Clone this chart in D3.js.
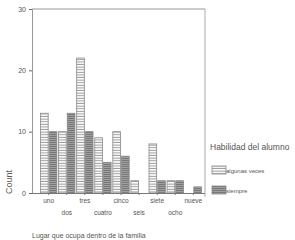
<!DOCTYPE html>
<html><head><meta charset="utf-8">
<script src="https://cdn.jsdelivr.net/npm/d3@7"></script>
<style>body{margin:0;background:#fff}svg{display:block}text{font-family:"Liberation Sans",Arial,sans-serif;fill:#555}</style>
</head><body><svg id="c" width="295" height="240"></svg>
<script>
const categories = ["uno","dos","tres","cuatro","cinco","seis","siete","ocho","nueve"];
const series = ["algunas veces","siempre"];
const algunasVeces = [13,10,22,9,10,2,8,2,0];
const siempre = [10,13,10,5,6,0,2,2,1];
const yTicks = [0,10,20,30];

(function(){
const svg = d3.select("#c");
const defs = svg.append("defs");
const p1 = defs.append("pattern").attr("id","pA").attr("patternUnits","userSpaceOnUse").attr("width",4).attr("height",2.6);
p1.append("rect").attr("width",4).attr("height",2.6).attr("fill","#fff");
p1.append("rect").attr("y",1.6).attr("width",4).attr("height",1).attr("fill","#999");
const p2 = defs.append("pattern").attr("id","pS").attr("patternUnits","userSpaceOnUse").attr("width",4).attr("height",2);
p2.append("rect").attr("width",4).attr("height",2).attr("fill","#777");
p2.append("rect").attr("y",1).attr("width",4).attr("height",0.6).attr("fill","#bbb");

const mL=32, mR=205, mT=9, mB=193;
const y = d3.scaleLinear().domain([0,30]).range([mB,mT]);
const x0 = d3.scaleBand().domain(categories).range([40,202]).paddingInner(0.04).paddingOuter(0);
const x1 = d3.scaleBand().domain(series).range([0,x0.bandwidth()]);
const fills = {"algunas veces":"url(#pA)","siempre":"url(#pS)"};
const vals = {"algunas veces":algunasVeces,"siempre":siempre};

svg.append("line").attr("x1",mL).attr("x2",mR).attr("y1",mT).attr("y2",mT).attr("stroke","#999").attr("stroke-width",1);
svg.append("line").attr("x1",mR).attr("x2",mR).attr("y1",mT).attr("y2",mB+4).attr("stroke","#aaa").attr("stroke-width",1);

const g = svg.append("g");
categories.forEach((c,i)=>{
  series.forEach(s=>{
    const v = vals[s][i];
    if(v<=0) return;
    g.append("rect").attr("x",x0(c)+x1(s)+0.5).attr("y",y(v)).attr("width",x1.bandwidth()-1).attr("height",mB-y(v))
      .attr("fill",fills[s]).attr("stroke","#888").attr("stroke-width",0.8);
  });
});

const ya = svg.append("g").attr("transform",`translate(${mL},0)`).call(d3.axisLeft(y).tickValues(yTicks).tickSize(3).tickPadding(3));
ya.select(".domain").attr("stroke","#999");
ya.selectAll(".tick line").attr("stroke","#666");
ya.selectAll("text").style("font-size","7px").attr("fill","#555");

const xa = svg.append("g").attr("transform",`translate(0,${mB})`).call(d3.axisBottom(x0).tickSize(2).tickPadding(3).tickSizeOuter(0));
xa.select(".domain").attr("stroke","#777").attr("d",`M${mL},0.5H${mR}`);
xa.selectAll(".tick line").attr("stroke","#777");
xa.selectAll("text").style("font-size","6.5px").attr("fill","#666")
  .attr("dy",(d,i)=> i%2===0 ? "0.75em" : "2.6em");

svg.append("text").attr("transform","translate(12,182) rotate(-90)").attr("text-anchor","middle").style("font-size","9px").attr("fill","#555").text("Count");
svg.append("text").attr("x",32).attr("y",238).style("font-size","7px").attr("fill","#555").text("Lugar que ocupa dentro de la familia");

svg.append("text").attr("x",210).attr("y",150).style("font-size","8.5px").attr("fill","#555").text("Habilidad del alumno");
series.forEach((s,i)=>{
  const ly = 166 + i*20;
  svg.append("rect").attr("x",212).attr("y",ly).attr("width",14).attr("height",8).attr("fill",fills[s]).attr("stroke","#888").attr("stroke-width",0.8);
  svg.append("text").attr("x",226).attr("y",ly+6.5).style("font-size","6px").attr("fill","#666").text(s);
});
})();
</script></body></html>
